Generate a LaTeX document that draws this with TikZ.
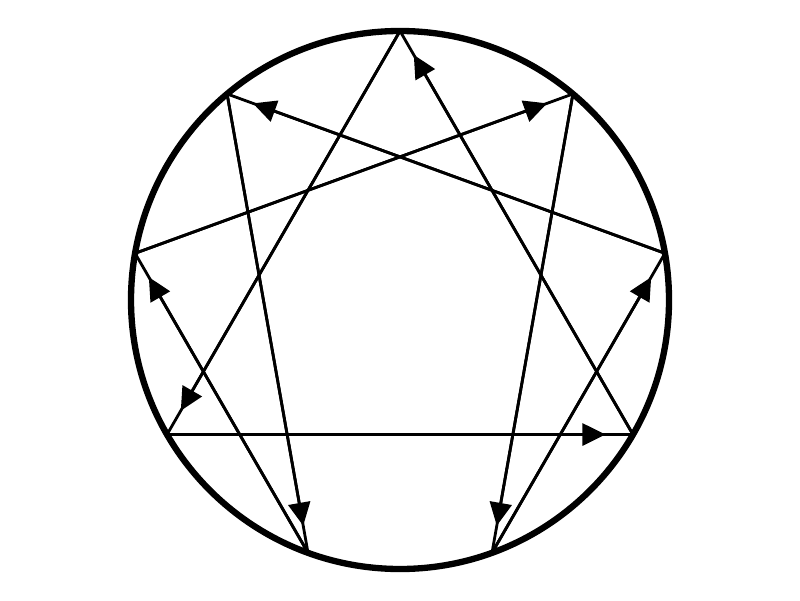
\documentclass[tikz,border=0pt]{standalone}
\usepackage{tikz}
\usetikzlibrary{arrows.meta,calc}

\begin{document}
\begin{tikzpicture}[line width=1.6pt]
  \tikzstyle{ring}=[draw=black,line width=3.6pt]
  \tikzstyle{arm}=[draw=black,postaction={draw,-{Triangle[length=0.46cm,width=0.44cm]},shorten >=0.55cm}]

  \useasboundingbox (0,0) rectangle (16,12);
  \coordinate (c) at (8,6);
  \draw[ring] (c) circle (5.38cm);

  \coordinate (p9) at ($(c)+(90:5.38)$);
  \coordinate (p1) at ($(c)+(50:5.38)$);
  \coordinate (p2) at ($(c)+(10:5.38)$);
  \coordinate (p3) at ($(c)+(-30:5.38)$);
  \coordinate (p4) at ($(c)+(-70:5.38)$);
  \coordinate (p5) at ($(c)+(-110:5.38)$);
  \coordinate (p6) at ($(c)+(-150:5.38)$);
  \coordinate (p7) at ($(c)+(170:5.38)$);
  \coordinate (p8) at ($(c)+(130:5.38)$);

  % triangle
  \path (p9) edge[arm] (p6)
        (p6) edge[arm] (p3)
        (p3) edge[arm] (p9);

  % hexad
  \path (p1) edge[arm] (p4)
        (p4) edge[arm] (p2)
        (p2) edge[arm] (p8)
        (p8) edge[arm] (p5)
        (p5) edge[arm] (p7)
        (p7) edge[arm] (p1);
\end{tikzpicture}
\end{document}
